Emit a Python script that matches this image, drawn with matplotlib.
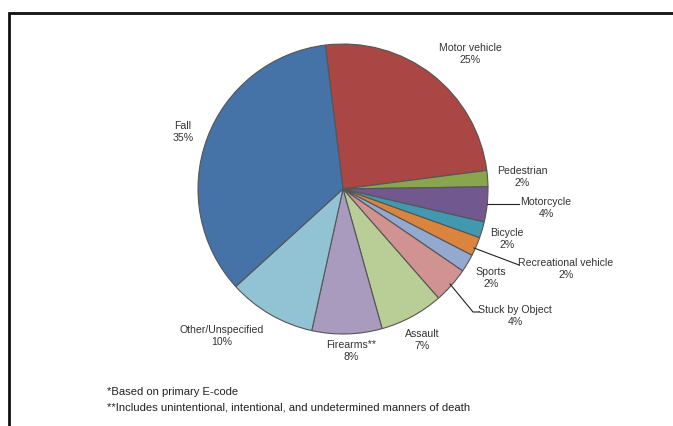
import matplotlib.pyplot as plt

# slices, clockwise from the top
labels = ["Motor vehicle", "Pedestrian", "Motorcycle", "Bicycle", "Recreational vehicle",
          "Sports", "Stuck by Object", "Assault", "Firearms**", "Other/Unspecified", "Fall"]
values = [24.9, 1.8, 3.9, 1.8, 2.1, 2.0, 4.0, 7.1, 7.8, 9.8, 34.8]
pct_labels = ["25%", "2%", "4%", "2%", "2%", "2%", "4%", "7%", "8%", "10%", "35%"]
colors = ["#AA4643", "#89A54E", "#71588F", "#4198AF", "#DB843D", "#93A9CF",
          "#D19392", "#B9CD96", "#A99BBD", "#92C3D5", "#4572A7"]

footnotes = ["*Based on primary E-code",
             "**Includes unintentional, intentional, and undetermined manners of death"]

plt.rcParams['font.family'] = ['Liberation Sans Narrow', 'Liberation Sans', 'DejaVu Sans']

W, H = 673, 427
fig = plt.figure(figsize=(W / 100, H / 100), dpi=100)
ax = fig.add_axes([0, 0, 1, 1])

# pie in pixel coordinates (y measured from the bottom)
cx, cy, r = 343, H - 190, 145
ax.pie(values, colors=colors, startangle=97, counterclock=False,
       center=(cx, cy), radius=r, frame=True,
       wedgeprops=dict(edgecolor="#555555", linewidth=0.8))
ax.set_xlim(0, W)
ax.set_ylim(0, H)
ax.set_aspect('equal')
ax.axis('off')

# label positions (image pixels, centre of the two-line label)
label_pos = [(470, 54), (522, 177), (546, 208), (507, 239), (566, 269),
             (491, 278), (515, 316), (422, 340), (351, 351), (222, 336), (183, 132)]
txt = "#333333"
for name, pct, (x, y) in zip(labels, pct_labels, label_pos):
    ax.text(x, H - y, name + "\n" + pct, ha="center", va="center",
            fontsize=7.6, color=txt, linespacing=1.35)

# leader lines
leaders = [[(487, 205), (519, 205)],
           [(474, 249), (519, 266)],
           [(450, 285), (473, 313), (479, 313)]]
for pts in leaders:
    xs = [p[0] for p in pts]
    ys = [H - p[1] for p in pts]
    ax.plot(xs, ys, color="#222222", linewidth=0.8)

# footnotes
for i, note in enumerate(footnotes):
    ax.text(107, H - 392 - 16 * i, note, ha="left", va="center", fontsize=8.1, color="#222222")

# frame (cut off at right and bottom)
ax.plot([8.5, 8.5, W + 5], [-5, H - 13.5, H - 13.5], color="#111111", linewidth=2,
        clip_on=False, solid_joinstyle="miter")

fig.savefig("out.png", dpi=100)
